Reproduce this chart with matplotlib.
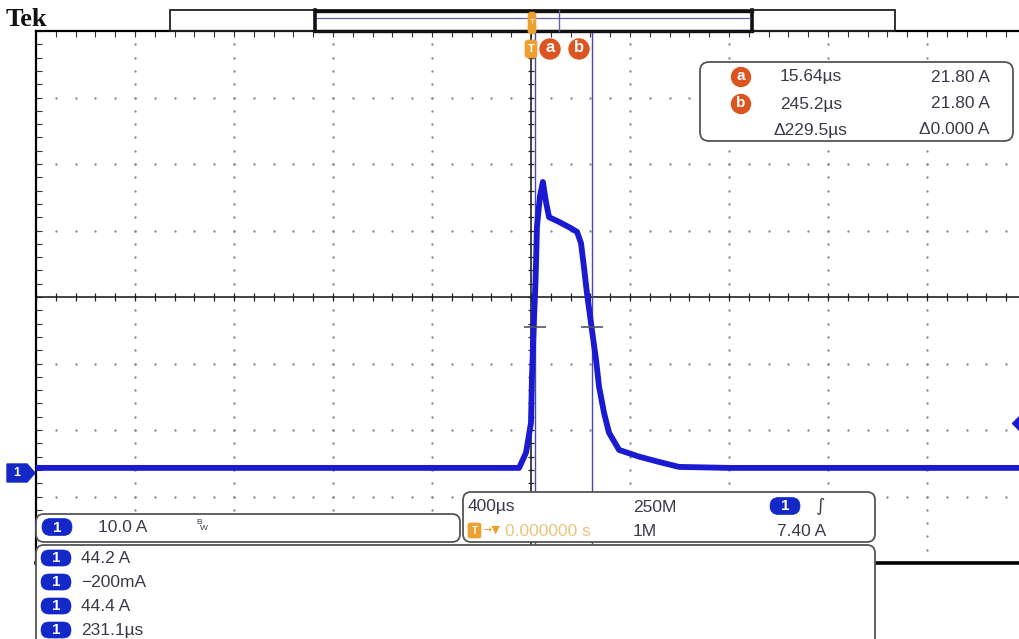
import matplotlib
matplotlib.use('Agg')
import matplotlib.pyplot as plt
import numpy as np
from matplotlib.patches import FancyBboxPatch, Circle, Polygon, Rectangle

# ---------------- data ----------------
time_us = [-2000, -400, -48, -20, 0, 4, 12, 18, 21, 24, 36, 48, 61, 73,
           113, 154, 186, 202, 214, 226, 246, 263, 275, 295, 315, 356,
           436, 517, 598, 800, 2000]
current_A = [0.6, 0.6, 0.6, 2.9, 7.4, 14.3, 22.9, 28.4, 32.3, 36.8, 41.4, 43.6,
             40.5, 38.3, 37.6, 36.8, 36.1, 34.4, 30.8, 26.9, 21.4, 16.8, 12.8,
             8.9, 5.9, 3.3, 2.3, 1.5, 0.75, 0.6, 0.6]

cursor_times_us = [15.64, 245.2]
cursor_level_A = 21.80
time_per_div_us = 400
amps_per_div = 10.0
ground_offset_div = -2.63     # ground marker position below screen centre
trigger_level_A = 7.40

cursor_rows = [("a", "15.64µs", "21.80 A"), ("b", "245.2µs", "21.80 A")]
cursor_delta = ("Δ229.5µs", "Δ0.000 A")
channel_scale = "10.0 A"
timebase = "400µs"
sample_rate = "250M"
record_len = "1M"
trig_pos = "0.000000 s"
meas_values = ["44.2 A", "\u2212200mA", "44.4 A", "231.1µs"]

# ---------------- figure ----------------
W, H = 1019, 639
fig = plt.figure(figsize=(W / 100, H / 100), dpi=100)
fig.patch.set_facecolor('white')

FONT = ['Liberation Sans', 'DejaVu Sans']
FS = 12.5
TXT = '#3a3a4a'
BLUE = '#1428c8'
TRACE = '#1a1ad0'
ORANGE = '#dc5520'
TORANGE = '#eda030'

# graticule axes in pixel placement
gx0, gx1, gy0, gy1 = 36, 1026, 31, 563
ax = fig.add_axes([gx0 / W, 1 - gy1 / H, (gx1 - gx0) / W, (gy1 - gy0) / H])
center_A = -ground_offset_div * amps_per_div
half_t = 5 * time_per_div_us
half_a = 4 * amps_per_div
ax.set_xlim(-half_t, half_t)
ax.set_ylim(center_A - half_a, center_A + half_a)
ax.set_facecolor('white')

for s in ['top', 'left', 'bottom']:
    ax.spines[s].set_color('black')
ax.spines['top'].set_linewidth(1.6)
ax.spines['left'].set_linewidth(1.6)
ax.spines['bottom'].set_linewidth(2.6)
ax.spines['right'].set_visible(False)

minor_t = time_per_div_us / 5
minor_a = amps_per_div / 5
xt = np.arange(-half_t, half_t + 1, minor_t)
yt = center_A + np.arange(-half_a, half_a + 0.01, minor_a)
ax.set_xticks(xt)
ax.set_yticks(yt)
ax.xaxis.set_ticks_position('top')
ax.yaxis.set_ticks_position('left')
ax.tick_params(direction='in', length=4, width=0.8, color='#333333',
               labeltop=False, labelleft=False, labelbottom=False)

# dotted major grid
maj_x = [-half_t + k * time_per_div_us for k in range(1, 10) if k != 5]
maj_y = [center_A + j * amps_per_div for j in (-3, -2, -1, 1, 2, 3)]
for xv in maj_x:
    ax.scatter(np.full(len(yt), xv), yt, s=3, color='#8c8c8c', lw=0, zorder=1)
for yv in maj_y:
    ax.scatter(xt, np.full(len(xt), yv), s=3, color='#8c8c8c', lw=0, zorder=1)

# centre cross-hair with ticks
ax.axvline(0, color='#222222', lw=1.2, zorder=2)
ax.axhline(center_A, color='#222222', lw=1.2, zorder=2)
ax.vlines(xt, center_A - 0.6, center_A + 0.6, color='#222222', lw=0.9, zorder=2)
ax.hlines(yt, -14, 14, color='#222222', lw=0.9, zorder=2)

# cursors
for ct in cursor_times_us:
    ax.axvline(ct, color='#4848b0', lw=1.0, zorder=2)
    ax.hlines(cursor_level_A, ct - 45, ct + 45, color='#555566', lw=1.2, zorder=4)

# waveform
ax.plot(time_us, current_A, color=TRACE, lw=4.2, solid_joinstyle='round',
        zorder=3)

# trigger level marker on the right edge
ax.plot([half_t - 20], [trigger_level_A], marker='D', ms=9, color=TRACE,
        clip_on=False, zorder=5)

# ---------------- overlay (screen decorations) ----------------
ov = fig.add_axes([0, 0, 1, 1], zorder=10)
ov.set_xlim(0, W)
ov.set_ylim(H, 0)
ov.axis('off')
ov.patch.set_alpha(0)


def rbox(x, y, w, h, r=8, fc='white', ec='#555555', lw=1.3, z=1):
    ov.add_patch(FancyBboxPatch((x, y), w, h,
                                boxstyle=f'round,pad=0,rounding_size={r}',
                                fc=fc, ec=ec, lw=lw, zorder=z))


def pill(xc, yc, w=30, h=16, label='1'):
    rbox(xc - w / 2, yc - h / 2, w, h, r=h / 2, fc=BLUE, ec=BLUE, lw=0.5, z=3)
    ov.text(xc, yc + 0.5, label, color='white', fontsize=11, fontweight='bold',
            ha='center', va='center', family=FONT, zorder=4)


def txt(x, y, s, ha='left', color=TXT, fs=FS):
    ov.text(x, y, s, color=color, fontsize=fs, ha=ha, va='center', family=FONT)


# Tek logo
ov.text(6, 19, 'Tek', fontsize=19, fontweight='bold', family='Liberation Serif',
        color='#111111', ha='left', va='center')

# record view bar
ov.add_patch(Rectangle((170, 10), 725, 21, fill=False, ec='#222222', lw=1.3))
ov.plot([315, 752], [10.5, 10.5], color='#111111', lw=2.4)
ov.plot([315, 752], [30.5, 30.5], color='#111111', lw=2.4)
ov.plot([315, 315], [10, 31], color='#111111', lw=2.6)
ov.plot([752, 752], [10, 31], color='#111111', lw=2.6)
ov.plot([317, 750], [18, 18], color='#6060a8', lw=0.9)
ov.plot([559, 559], [10, 31], color='#6060a8', lw=1.0)

# trigger markers
rbox(528, 12, 8, 22, r=3, fc=TORANGE, ec=TORANGE, lw=0.5, z=3)
ov.text(532, 22, 'T', color='white', fontsize=6, ha='center', va='center',
        family=FONT, zorder=4)
rbox(525, 40, 12, 18, r=3, fc=TORANGE, ec=TORANGE, lw=0.5, z=3)
ov.text(531, 49, 'T', color='white', fontsize=8, fontweight='bold',
        ha='center', va='center', family=FONT, zorder=4)

# cursor labels
for xc, lab in [(550, 'a'), (579, 'b')]:
    ov.add_patch(Circle((xc, 49), 10, color=ORANGE, zorder=3))
    ov.text(xc, 48, lab, color='white', fontsize=12, fontweight='bold',
            ha='center', va='center', family=FONT, zorder=4)

# cursor readout box
rbox(700, 62, 313, 79, r=9)
for (lab, tv, av), yc in zip(cursor_rows, [77, 104]):
    ov.add_patch(Circle((741, yc), 9.5, color=ORANGE, zorder=3))
    ov.text(741, yc - 1, lab, color='white', fontsize=11, fontweight='bold',
            ha='center', va='center', family=FONT, zorder=4)
    txt(780, yc, tv)
    txt(990, yc, av, ha='right')
txt(774, 130, cursor_delta[0])
txt(990, 130, cursor_delta[1], ha='right')

# ground marker (left)
ov.add_patch(Polygon([(7, 464), (27, 464), (35, 473), (27, 482), (7, 482)],
                     closed=True, fc=BLUE, ec=BLUE, zorder=3))
ov.text(17, 473.5, '1', color='white', fontsize=9, fontweight='bold',
        ha='center', va='center', family=FONT, zorder=4)

# channel box
rbox(36, 514, 424, 28, r=8)
pill(57, 527, w=30, h=17)
txt(98, 528, channel_scale)
ov.text(196, 523, 'B', color=TXT, fontsize=6, ha='left', va='center',
        family=FONT)
ov.text(200, 529, 'W', color=TXT, fontsize=6, ha='left', va='center',
        family=FONT)

# timebase box
rbox(463, 492, 412, 50, r=8)
txt(468, 507, timebase)
txt(633, 507, sample_rate)
txt(633, 531, record_len)
pill(785, 506, w=30, h=17)
ov.text(815, 506, '∫', color=TXT, fontsize=13, ha='left', va='center',
        family=['DejaVu Sans'], style='italic')
txt(777, 531, f'{trigger_level_A:.2f} A')
rbox(468, 523, 13, 15, r=2, fc=TORANGE, ec=TORANGE, lw=0.5, z=3)
ov.text(474.5, 530.5, 'T', color='white', fontsize=7, fontweight='bold',
        ha='center', va='center', family=FONT, zorder=4)
ov.text(482, 530, '→▼', color=TORANGE, fontsize=8, ha='left', va='center',
        family=['DejaVu Sans'])
txt(505, 531, trig_pos, color='#e8c478')

# measurement box
rbox(36, 545, 839, 120, r=8)
for val, yc in zip(meas_values, [558, 582, 606, 630]):
    pill(56, yc, w=30, h=16)
    txt(81, yc + 0.5, val)

fig.savefig('out.png', dpi=100, facecolor='white')
